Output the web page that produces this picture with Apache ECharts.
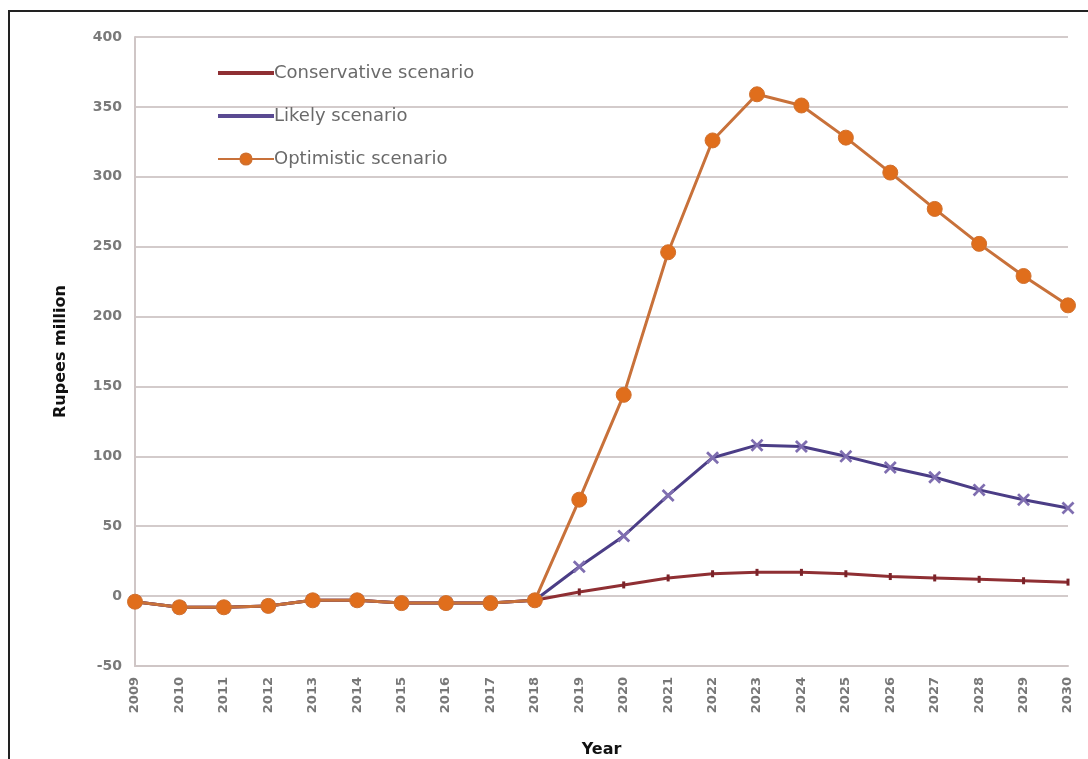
<!DOCTYPE html>
<html>
<head>
<meta charset="utf-8">
<script src="https://cdn.jsdelivr.net/npm/echarts@6/dist/echarts.min.js"></script>
<style>
  html, body { margin: 0; padding: 0; background: #ffffff; }
  #frame { position: absolute; left: 8px; top: 10px; width: 1100px; height: 760px;
           border-left: 2px solid #222; border-top: 2px solid #222; box-sizing: border-box; }
  #chart { position: absolute; left: 0; top: 0; width: 1088px; height: 759px; }
</style>
</head>
<body>
<div id="frame"></div>
<div id="chart"></div>
<script>
// Net benefit projections, Rupees million, by year
const years = ['2009','2010','2011','2012','2013','2014','2015','2016','2017','2018','2019',
               '2020','2021','2022','2023','2024','2025','2026','2027','2028','2029','2030'];

const conservative = [-4, -8, -8, -7, -3, -3, -5, -5, -5, -3, 3, 8, 13, 16, 17, 17, 16, 14, 13, 12, 11, 10];
const likely       = [-4, -8, -8, -7, -3, -3, -5, -5, -5, -3, 21, 43, 72, 99, 108, 107, 100, 92, 85, 76, 69, 63];
const optimistic   = [-4, -8, -8, -7, -3, -3, -5, -5, -5, -3, 69, 144, 246, 326, 359, 351, 328, 303, 277, 252, 229, 208];

const yTicks = { min: -50, max: 400, step: 50 };

const crossPath = 'path://M0,1.5L1.5,0L5,3.5L8.5,0L10,1.5L6.5,5L10,8.5L8.5,10L5,6.5L1.5,10L0,8.5L3.5,5Z';
const thinBar = 'path://M0,0L56,0L56,4L0,4Z';

const chart = echarts.init(document.getElementById('chart'), null, { renderer: 'canvas' });

chart.setOption({
  backgroundColor: 'transparent',
  animation: false,
  grid: { left: 135, right: 20, top: 37, bottom: 93, containLabel: false, outerBoundsMode: 'none' },
  legend: {
    orient: 'vertical',
    left: 212,
    top: 59,
    itemWidth: 56,
    itemHeight: 14,
    itemGap: 25,
    symbolKeepAspect: true,
    textStyle: { color: '#6a6a6a', fontSize: 18, lineHeight: 18, fontFamily: 'DejaVu Sans',
                 padding: [0, 0, 0, -5] },
    data: [
      { name: 'Conservative scenario', icon: thinBar, itemStyle: { color: '#8f2f33' } },
      { name: 'Likely scenario', icon: thinBar, itemStyle: { color: '#5a4a92' } },
      'Optimistic scenario'
    ]
  },
  xAxis: {
    type: 'category',
    data: years,
    boundaryGap: false,
    name: 'Year',
    nameLocation: 'middle',
    nameGap: 76,
    nameTextStyle: { color: '#111111', fontSize: 16, fontWeight: 'bold', fontFamily: 'DejaVu Sans' },
    axisLine: { onZero: false, lineStyle: { color: '#cfc6c6', width: 2 } },
    axisTick: { show: false },
    axisLabel: { rotate: 90, color: '#777777', fontSize: 13, fontWeight: 'bold',
                 fontFamily: 'DejaVu Sans', margin: 11, interval: 0 },
    splitLine: { show: false }
  },
  yAxis: {
    type: 'value',
    min: yTicks.min,
    max: yTicks.max,
    interval: yTicks.step,
    name: 'Rupees million',
    nameLocation: 'middle',
    nameGap: 66,
    nameTextStyle: { color: '#111111', fontSize: 16, fontWeight: 'bold', fontFamily: 'DejaVu Sans' },
    axisLine: { show: true, lineStyle: { color: '#cfc6c6', width: 2 } },
    axisTick: { show: false },
    axisLabel: { color: '#7a7a7a', fontSize: 14, fontWeight: 'bold', fontFamily: 'DejaVu Sans', margin: 13 },
    splitLine: { lineStyle: { color: '#d3cbcb', width: 2 } }
  },
  series: [
    {
      name: 'Conservative scenario',
      type: 'line',
      data: conservative,
      symbol: 'rect',
      symbolSize: [3, 7],
      lineStyle: { color: '#8f2f33', width: 3 },
      itemStyle: { color: '#7a2228' },
      z: 2
    },
    {
      name: 'Likely scenario',
      type: 'line',
      data: likely,
      symbol: crossPath,
      symbolSize: 13,
      lineStyle: { color: '#4b3d86', width: 3 },
      itemStyle: { color: '#7f6eb0' },
      z: 3
    },
    {
      name: 'Optimistic scenario',
      type: 'line',
      data: optimistic,
      symbol: 'circle',
      symbolSize: 15,
      lineStyle: { color: '#c8713a', width: 3 },
      itemStyle: { color: '#e06e1c', borderColor: '#d0702e', borderWidth: 1 },
      z: 4
    }
  ]
});
</script>
</body>
</html>
